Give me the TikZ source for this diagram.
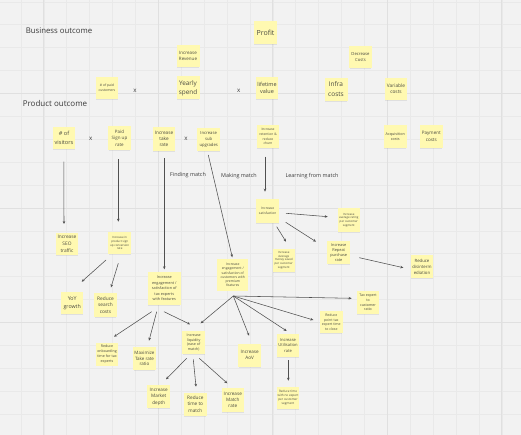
\documentclass[tikz,border=0pt]{standalone}
\usepackage{fontspec}
\setmainfont{Open Sans}
\usetikzlibrary{arrows.meta,shadows}
\definecolor{bgcol}{HTML}{F2F2F2}
\definecolor{gridminor}{HTML}{E9E9E9}
\definecolor{gridmajor}{HTML}{E0E0E0}
\definecolor{stickyyellow}{HTML}{FFF9B1}
\definecolor{stickytext}{HTML}{4A4A40}
\definecolor{labeltext}{HTML}{3A3A3A}
\definecolor{arrowcol}{HTML}{505050}
\newcommand{\fsz}[2]{\fontsize{#1}{#2}\selectfont}
\newcommand{\conn}[4]{\draw[arrowline] ([shift={(#2)}]#1.center) -- ([shift={(#4)}]#3.center);}
\begin{document}
\begin{tikzpicture}[x=1pt,y=-1pt,
  sticky/.style={fill=stickyyellow, text=stickytext, align=center, inner sep=0pt,
    drop shadow={shadow xshift=0pt, shadow yshift=-1.3pt, opacity=0.16, shadow scale=0.97}},
  lbl/.style={text=labeltext, inner sep=0pt},
  arrowline/.style={draw=arrowcol, line width=0.55pt, -{Stealth[length=3pt,width=2.6pt]}}]
\useasboundingbox (0,0) rectangle (521,435);
\fill[bgcol] (0,0) rectangle (521,435);
% grid
\foreach \i in {0,...,22} {\draw[gridminor, line width=0.35pt] ({20.8+22.9*\i},0) -- ++(0,435);}
\foreach \i in {0,...,19} {\draw[gridminor, line width=0.35pt] (0,{1.7+22.9*\i}) -- ++(521,0);}
\foreach \i in {0,...,4} {\draw[gridmajor, line width=0.45pt] ({43.7+114.5*\i},0) -- ++(0,435);}
\foreach \i in {0,...,2} {\draw[gridmajor, line width=0.45pt] (0,{93.3+114.5*\i}) -- ++(521,0);}

% labels
\node[lbl, font=\fsz{7.8}{9}] (bizout) at (59,31) {Business outcome};
\node[lbl, font=\fsz{8}{9}] (prodout) at (55,104) {Product outcome};
\node[lbl, font=\fsz{6.2}{7}] (x1) at (135,91) {x};
\node[lbl, font=\fsz{6.2}{7}] (x2) at (238.7,91) {x};
\node[lbl, font=\fsz{6.2}{7}] (x3) at (90.7,139.3) {x};
\node[lbl, font=\fsz{6.2}{7}] (x4) at (186,138.7) {x};
\node[lbl, font=\fsz{5.4}{6}] (finding) at (188,175) {Finding match};
\node[lbl, font=\fsz{5.4}{6}] (making) at (239,175.7) {Making match};
\node[lbl, font=\fsz{5.4}{6}] (learning) at (312,175.7) {Learning from match};

% top stickies
\node[sticky, minimum width=23pt, minimum height=23pt, font=\fsz{7}{9}] (profit) at (265.5,32.5) {Profit};
\node[sticky, minimum width=23pt, minimum height=22pt, font=\fsz{4.5}{6.5}] (revenue) at (188,56) {Increase\\Revenue};
\node[sticky, minimum width=22.5pt, minimum height=22.5pt, font=\fsz{4.2}{6}] (decrease) at (360.5,57) {Decrease\\Costs};
\node[sticky, minimum width=22.5pt, minimum height=22.5pt, font=\fsz{3.4}{5}] (paidcust) at (107,88) {\# of paid\\customers};
\node[sticky, minimum width=23pt, minimum height=23pt, font=\fsz{6.4}{9}] (yearly) at (188,88) {Yearly\\spend};
\node[sticky, minimum width=22pt, minimum height=22pt, font=\fsz{5.5}{7.7}] (lifetime) at (267,88) {lifetime\\value};
\node[sticky, minimum width=23pt, minimum height=22.5pt, font=\fsz{6.5}{10}] (infra) at (336,89.5) {Infra\\costs};
\node[sticky, minimum width=22.5pt, minimum height=22.5pt, font=\fsz{4.8}{6}] (variable) at (396,89) {Variable\\costs};

% product row
\node[sticky, minimum width=22pt, minimum height=22.5pt, font=\fsz{5.6}{8.3}] (visitors) at (64,138) {\# of\\visitors};
\node[sticky, minimum width=22.5pt, minimum height=23.5pt, font=\fsz{4.5}{6.5}] (paid) at (119.5,138) {Paid\\Sign up\\rate};
\node[sticky, minimum width=22.5pt, minimum height=24pt, font=\fsz{4.7}{6.2}] (take) at (164,138.7) {Increase\\take\\rate};
\node[sticky, minimum width=22.5pt, minimum height=22.5pt, font=\fsz{4.2}{5.7}] (subupg) at (208.7,139.5) {Increase\\sub\\upgrades};
\node[sticky, minimum width=22.5pt, minimum height=23.3pt, font=\fsz{3.3}{4.7}] (retention) at (268,136.7) {Increase\\retention \&\\reduce\\churn};
\node[sticky, minimum width=22.7pt, minimum height=23.3pt, font=\fsz{3.75}{5.3}] (acq) at (395.3,136.7) {Acquisition\\costs};
\node[sticky, minimum width=22.7pt, minimum height=23.3pt, font=\fsz{4.6}{6.7}] (payment) at (431.3,136.7) {Payment\\costs};

% lower stickies
\node[sticky, minimum width=22.6pt, minimum height=22.3pt, font=\fsz{4.8}{6.7}] (seo) at (67,244) {Increase\\SEO\\traffic};
\node[sticky, minimum width=22.7pt, minimum height=22.3pt, font=\fsz{2.9}{3.9}] (conv) at (119.7,243) {Increase in\\product sign\\up conversion\\rate};
\node[sticky, minimum width=22.3pt, minimum height=22.6pt, font=\fsz{5.3}{7.7}] (yoy) at (72.2,303) {YoY\\growth};
\node[sticky, minimum width=22.4pt, minimum height=23.4pt, font=\fsz{4.8}{6.2}] (search) at (105.5,305) {Reduce\\search\\costs};
\node[sticky, minimum width=33.3pt, minimum height=33.3pt, font=\fsz{3.8}{5.6}] (taxexp) at (164.3,288.3) {Increase\\engagement /\\satisfaction of\\tax experts\\with features};
\node[sticky, minimum width=31pt, minimum height=31.4pt, font=\fsz{3.4}{4.3}] (premium) at (232.8,275) {Increase\\engagement /\\satisfaction of\\customers with\\premium\\features};
\node[sticky, minimum width=23.3pt, minimum height=23.3pt, font=\fsz{3.3}{4.7}] (satisf) at (267.7,211) {Increase\\satisfaction};
\node[sticky, minimum width=22.3pt, minimum height=23.3pt, font=\fsz{2.9}{3.7}] (avgrating) at (348.8,220) {Increase\\average rating\\per customer\\segment};
\node[sticky, minimum width=22.3pt, minimum height=22.7pt, font=\fsz{2.9}{3.9}] (money) at (283.8,260.3) {Increase\\Average\\money saved\\per customer\\segment};
\node[sticky, minimum width=22.7pt, minimum height=23.3pt, font=\fsz{3.9}{5}] (repeat) at (338.7,252.3) {Increase\\Repeat\\purchase\\rate};
\node[sticky, minimum width=22.6pt, minimum height=23.3pt, font=\fsz{4.3}{5.8}] (disinter) at (422,266.7) {Reduce\\disinterm\\ediation};
\node[sticky, minimum width=22.3pt, minimum height=23pt, font=\fsz{3.6}{4.8}] (onboard) at (107,354) {Reduce\\onboarding\\time for tax\\experts};
\node[sticky, minimum width=22.4pt, minimum height=22.7pt, font=\fsz{4.5}{5.5}] (maximize) at (144.5,358.7) {Maximize\\Take rate\\ratio};
\node[sticky, minimum width=22.7pt, minimum height=23pt, font=\fsz{3.6}{4.7}] (liquidity) at (193.7,342.5) {Increase\\liquidity\\(ease of\\match)};
\node[sticky, minimum width=22.7pt, minimum height=22.7pt, font=\fsz{4.65}{6}] (aov) at (249.7,355.3) {Increase\\AoV};
\node[sticky, minimum width=22.6pt, minimum height=22.7pt, font=\fsz{4.1}{5.3}] (util) at (288,345.3) {Increase\\Utilisation\\rate};
\node[sticky, minimum width=22.7pt, minimum height=22.7pt, font=\fsz{3.5}{4.5}] (pointtax) at (331.3,322) {Reduce\\point tax\\expert time\\to close};
\node[sticky, minimum width=22.6pt, minimum height=23pt, font=\fsz{3.6}{4.8}] (taxratio) at (368,302.5) {Tax expert\\to\\customer\\ratio};
\node[sticky, minimum width=22.7pt, minimum height=23.3pt, font=\fsz{4.65}{6.3}] (market) at (158.7,396.7) {Increase\\Market\\depth};
\node[sticky, minimum width=22.7pt, minimum height=23pt, font=\fsz{4.7}{6.2}] (timematch) at (195.3,404.2) {Reduce\\time to\\match};
\node[sticky, minimum width=22.3pt, minimum height=23.3pt, font=\fsz{4.65}{6.2}] (matchrate) at (232.8,400) {Increase\\Match\\rate};
\node[sticky, minimum width=22.6pt, minimum height=22.6pt, font=\fsz{3.1}{4}] (noexpert) at (288,398) {Reduce time\\with no expert\\per customer\\segment};

% connectors
\conn{visitors}{-0.2,23.7}{seo}{-3,-20}
\conn{paid}{-1.2,21.3}{conv}{-1.4,-21.3}
\conn{take}{0.3,19.6}{taxexp}{0,-19}
\conn{subupg}{-0.4,15.5}{premium}{-0.5,-17.7}
\conn{retention}{-3,20}{satisf}{-2.7,-19.3}
\conn{satisf}{18.3,2.3}{avgrating}{-21.1,-3.3}
\conn{satisf}{9,15.7}{money}{2.2,-18.6}
\conn{satisf}{18,11.3}{repeat}{-22.7,-10.6}
\conn{repeat}{20.6,5.4}{disinter}{-18.7,1}
\conn{conv}{-13.7,17}{yoy}{9.5,-21.3}
\conn{conv}{-1.4,20.3}{search}{5.5,-17.7}
\conn{taxexp}{-12.6,23.4}{onboard}{7,-17.3}
\conn{taxexp}{-7.6,23.4}{maximize}{4.5,-18}
\conn{taxexp}{-0.3,23.4}{liquidity}{-3.7,-18.2}
\coordinate (pfan) at ([shift={(0.5,21)}]premium.center);
\draw[arrowline] (pfan) -- ([shift={(7,-19.2)}]liquidity.center);
\draw[arrowline] (pfan) -- ([shift={(-0.7,-19.6)}]aov.center);
\draw[arrowline] (pfan) -- ([shift={(-1.3,-14.3)}]util.center);
\draw[arrowline] (pfan) -- ([shift={(-18,-2)}]pointtax.center);
\draw[arrowline] (pfan) -- ([shift={(-16.3,-4.2)}]taxratio.center);
\conn{liquidity}{-7,15.8}{market}{7.3,-17.4}
\conn{liquidity}{-0.4,16.8}{timematch}{0.7,-17.5}
\conn{liquidity}{5.6,15.8}{matchrate}{-5.5,-16.7}
\conn{util}{0.3,14.7}{noexpert}{0.3,-17.3}
\end{tikzpicture}
\end{document}
